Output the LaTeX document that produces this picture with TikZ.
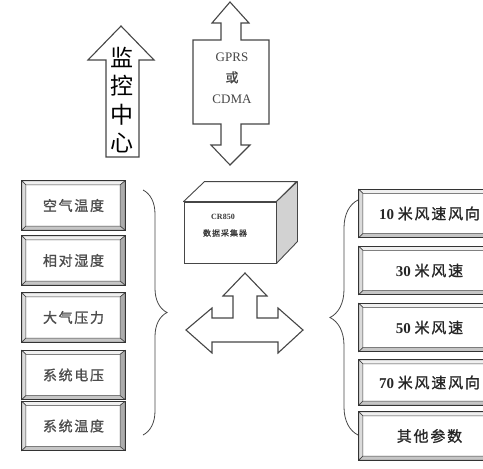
\documentclass[tikz,border=0pt]{standalone}
\usepackage{fontspec}
\setmainfont{Liberation Serif}
\newfontfamily\cjk{Noto Sans CJK SC}
\newfontfamily\cjkw[LetterSpace=12,FakeBold=1.2]{Noto Sans CJK SC}
\usetikzlibrary{calc,decorations.pathreplacing}
\newcommand\bevelit[1]{%
  \path[draw=gray!50!black,line width=0.5pt,fill=gray!12] (#1.north west) -- (#1.north east) -- ($(#1.north east)+(-5,4)$) -- ($(#1.north west)+(4,4)$) -- cycle;
  \path[draw=gray!50!black,line width=0.5pt,fill=gray!28] (#1.north west) -- ($(#1.north west)+(4,4)$) -- ($(#1.south west)+(4,-4)$) -- (#1.south west) -- cycle;
  \path[draw=gray!50!black,line width=0.5pt,fill=gray!65] (#1.north east) -- (#1.south east) -- ($(#1.south east)+(-5,-4)$) -- ($(#1.north east)+(-5,4)$) -- cycle;
  \path[draw=gray!50!black,line width=0.5pt,fill=gray!45] (#1.south west) -- ($(#1.south west)+(4,-4)$) -- ($(#1.south east)+(-5,-4)$) -- (#1.south east) -- cycle;
  \draw[gray!40!black,line width=0.9pt] (#1.north west) rectangle (#1.south east);
}
\begin{document}
\begin{tikzpicture}[x=1pt,y=-1pt,
  outl/.style={draw=gray!55!black,line width=1.1pt,line join=miter,fill=white},
  lbox/.style={inner sep=0pt,minimum width=103pt,minimum height=49pt,
    font=\cjkw\fontsize{14}{15}\selectfont,text=black!70},
  rbox/.style={inner sep=0pt,minimum width=141pt,minimum height=48pt,
    font=\fontsize{15}{16}\selectfont,text=black!85},
  bracestyle/.style={draw=gray!55!black,line width=0.8pt,decorate},
  bigtxt/.style={align=center,font=\cjk\fontsize{23}{28.3}\selectfont,text=black},
  smalltxt/.style={align=center,text=gray!55!black}]
\useasboundingbox (0,0) rectangle (483,469);
\clip (0,0) rectangle (483,469);

% --- up arrow: monitoring centre
\draw[outl] (106,157) -- (106,60) -- (88,60) -- (121,26) -- (154,60) -- (139,60) -- (139,157) -- cycle;
\node[bigtxt] (mc) at (122,100) {监\\控\\中\\心};

% --- GPRS / CDMA double arrow
\draw[outl] (230,2) -- (249,23) -- (241,23) -- (241,40) -- (269,40) -- (269,124) -- (241,124)
  -- (241,145) -- (250,145) -- (230,165) -- (211,145) -- (221,145) -- (221,124) -- (193,124)
  -- (193,40) -- (221,40) -- (221,23) -- (212,23) -- cycle;
\node[smalltxt,font=\fontsize{13}{21}\selectfont] (gprs) at (232,78)
  {GPRS\\{\cjkw 或}\\CDMA};

% --- CR850 data logger (3D box)
\node[draw=gray!55!black,line width=0.9pt,fill=white,minimum width=92pt,minimum height=61pt,inner sep=0pt] (cr) at (230,232.5) {};
\draw[draw=gray!55!black,line width=0.9pt,fill=white,line join=round] (cr.north west) -- ++(21,-20) -- ++(92,0) -- (cr.north east) -- cycle;
\draw[draw=gray!55!black,line width=0.9pt,fill=gray!35,line join=round] (cr.north east) -- ++(21,-20) -- ++(0,60) -- (cr.south east) -- cycle;
\node[text=gray!45!black,font=\bfseries\fontsize{8}{9}\selectfont] (crname) at (223,217) {CR850};
\node[text=gray!45!black,font=\cjkw\fontsize{8}{9}\selectfont] (crlabel) at (225,233) {数据采集器};

% --- three-way arrow
\draw[outl] (245,273) -- (267,296) -- (257,296) -- (257,318) -- (278,318) -- (278,308) -- (303,330)
  -- (278,353) -- (278,342) -- (212,342) -- (212,353) -- (186,330) -- (212,308) -- (212,318)
  -- (233,318) -- (233,296) -- (223,296) -- cycle;

% --- left boxes
\node[lbox] (l1) at (73.5,205.5) {空气温度};
\node[lbox] (l2) at (73.5,260.5) {相对湿度};
\node[lbox] (l3) at (73.5,317.5) {大气压力};
\node[lbox] (l4) at (73.5,375) {系统电压};
\node[lbox] (l5) at (73.5,426) {系统温度};
\foreach \n in {l1,l2,l3,l4,l5} {\bevelit{\n}}

% --- right boxes
\node[rbox] (r1) at (429.5,213.5) {\raisebox{-5pt}{\textbf{10} {\cjkw 米风速风向}}};
\node[rbox] (r2) at (429.5,270.5) {\raisebox{-5pt}{\textbf{30} {\cjkw 米风速}}};
\node[rbox] (r3) at (429.5,327.5) {\raisebox{-5pt}{\textbf{50} {\cjkw 米风速}}};
\node[rbox,minimum height=45pt] (r4) at (429.5,382.5) {\raisebox{-6pt}{\textbf{70} {\cjkw 米风速风向}}};
\node[rbox] (r5) at (429.5,436) {\raisebox{-4pt}{\cjkw 其他参数}};
\foreach \n in {r1,r2,r3,r4,r5} {\bevelit{\n}}

% --- braces
\coordinate (lbt) at (143,190);
\coordinate (lbb) at (143,435);
\draw[bracestyle,decoration={brace,amplitude=24pt}] (lbt) -- (lbb);
\coordinate (rbt) at (358,200);
\coordinate (rbb) at (358,435);
\draw[bracestyle,decoration={brace,amplitude=28pt}] (rbb) -- (rbt);
\end{tikzpicture}
\end{document}
